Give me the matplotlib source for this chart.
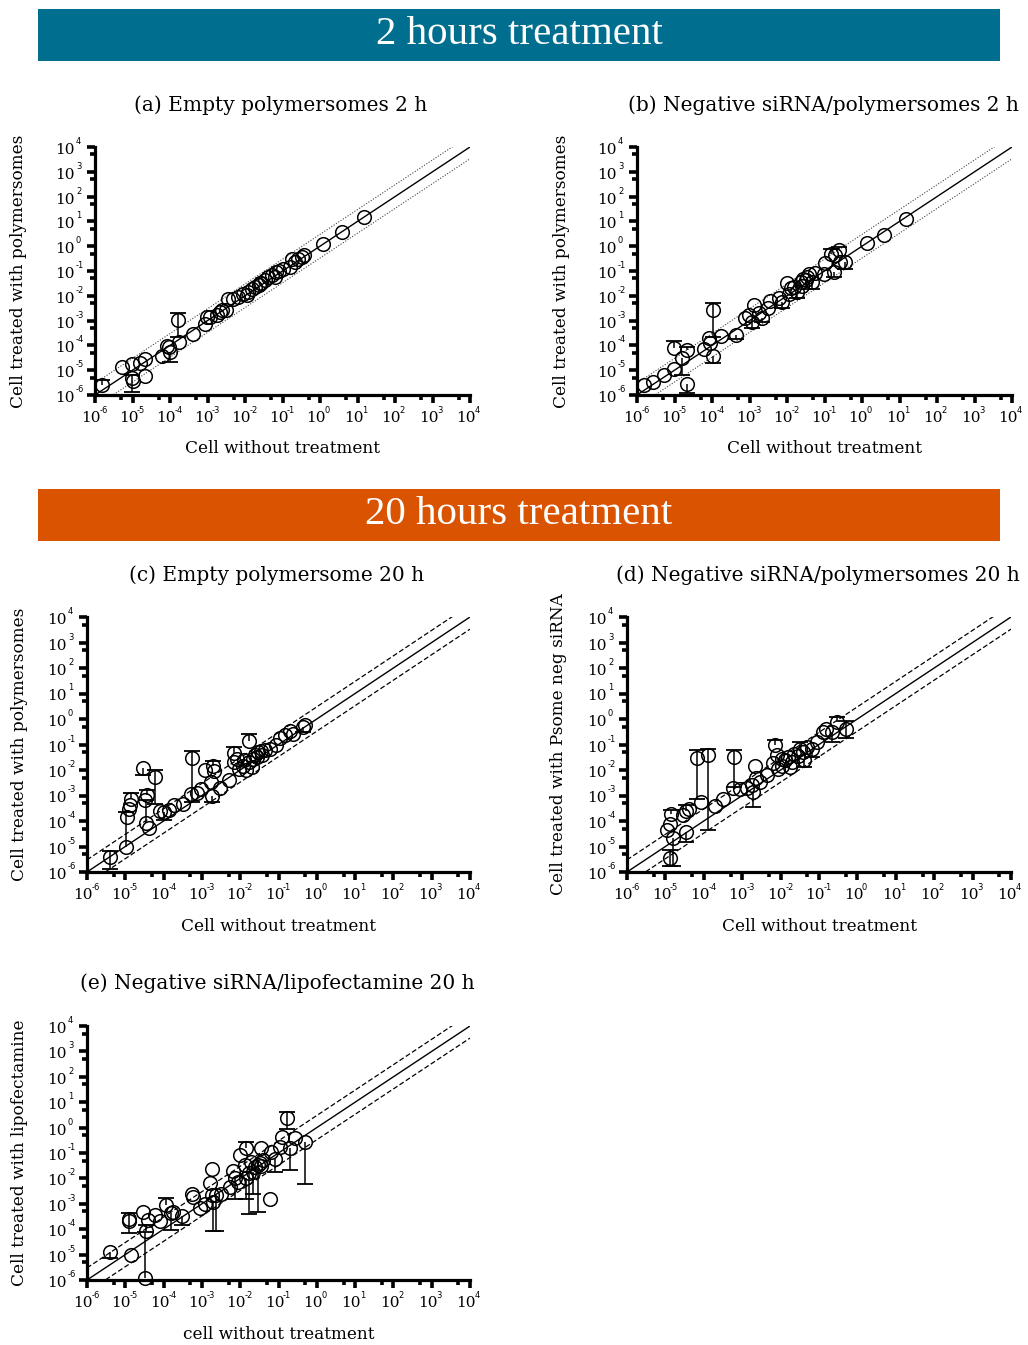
import numpy as np
import matplotlib
matplotlib.use('Agg')
import matplotlib.pyplot as plt
from matplotlib.ticker import FixedLocator, NullFormatter
from matplotlib.patches import Rectangle

plt.rcParams['font.family'] = ['DejaVu Serif']

# ---- (a) empty polymersomes, 2 h ----
xa = [1.5e-6, 5.1e-6, 9.5e-6, 9.5e-6, 1e-5, 1.6e-5, 2.1e-5, 2.1e-5, 6.3e-5, 8.1e-5,
      1e-4, 9.3e-5, 1.6e-4, 1.75e-4, 4.2e-4, 8.5e-4, 9.5e-4, 1.2e-3, 1.75e-3, 2.1e-3,
      3.2e-3, 3.6e-3, 4.9e-3, 6.6e-3, 9.1e-3, 1.23e-2, 1.5e-2, 1.86e-2, 2.3e-2, 2.75e-2,
      3.4e-2, 4.2e-2, 5.1e-2, 6.3e-2, 6.9e-2, 0.105, 0.158, 0.174, 0.214, 0.263,
      0.324, 0.372, 1.23, 3.8, 15, 1.12e-2, 2.5e-2, 2.5e-3, 7.9e-2]
ya = [2.5e-6, 1.4e-5, 1.8e-5, 4.7e-6, 3.8e-6, 1.9e-5, 2.75e-5, 5.9e-6, 3.7e-5, 9.3e-5,
      5.5e-5, 8.9e-5, 1.1e-3, 1.4e-4, 3.0e-4, 7.2e-4, 1.35e-3, 1.4e-3, 1.65e-3, 2.3e-3,
      2.6e-3, 7.1e-3, 7.1e-3, 9.1e-3, 1.17e-2, 1.45e-2, 1.8e-2, 2.3e-2, 2.7e-2, 3.3e-2,
      4.3e-2, 5.5e-2, 6.8e-2, 5.9e-2, 9.3e-2, 0.126, 0.148, 0.316, 0.234, 0.316,
      0.372, 0.437, 1.2, 3.8, 15, 1.05e-2, 3.2e-2, 2.8e-3, 0.1]
ex_a = [1.5e-6, 9.5e-6, 1e-4, 1.6e-4]
ey_a = [2.5e-6, 4.7e-6, 5.5e-5, 1.1e-3]
elo_a = [2.5e-6, 1.35e-6, 2.2e-5, 2.2e-4]
ehi_a = [4e-6, 6.3e-6, 5.5e-5, 1.95e-3]

# ---- (b) negative siRNA / polymersomes, 2 h ----
xb = [1.5e-6, 2.75e-6, 5.1e-6, 9.5e-6, 9.5e-6, 1.6e-5, 2.1e-5, 2.1e-5, 6.3e-5, 8.1e-5,
      9.1e-5, 1.05e-4, 1.05e-4, 1.7e-4, 4.4e-4, 7.8e-4, 9.5e-4, 1.17e-3, 1.3e-3, 1.75e-3,
      2.1e-3, 3.2e-3, 3.6e-3, 6.0e-3, 7.4e-3, 1e-2, 1.1e-2, 1.5e-2, 1.86e-2, 2.3e-2,
      2.75e-2, 3.4e-2, 3.8e-2, 4.7e-2, 5.75e-2, 9.5e-2, 0.105, 0.145, 0.174, 0.195,
      0.25, 0.263, 0.363, 1.32, 3.8, 14.8, 1.26e-2, 2.5e-2, 3.2e-2]
yb = [2.5e-6, 3.2e-6, 6.5e-6, 1.07e-5, 8.1e-5, 3.0e-5, 6.5e-5, 2.75e-6, 6.9e-5, 1.9e-4,
      1.2e-4, 3.7e-5, 2.6e-3, 2.4e-4, 2.6e-4, 1.23e-3, 1.65e-3, 8.9e-4, 4.2e-3, 1.95e-3,
      1.23e-3, 3.1e-3, 6.3e-3, 7.8e-3, 5.8e-3, 3.2e-2, 1.23e-2, 2.3e-2, 1.45e-2, 3.6e-2,
      4.6e-2, 5.9e-2, 7.9e-2, 3.6e-2, 8.5e-2, 7.9e-2, 0.214, 0.5, 9.3e-2, 0.437,
      0.69, 0.234, 0.234, 1.35, 2.75, 12.9, 2e-2, 2.5e-2, 4.5e-2]
ex_b = [9.5e-6, 1.6e-5, 2.1e-5, 2.1e-5, 1.05e-4, 1.05e-4, 4.4e-4, 1.17e-3, 2.1e-3,
        7.4e-3, 1.86e-2, 4.7e-2, 0.145, 0.174, 0.25, 0.363]
ey_b = [8.1e-5, 3.0e-5, 6.5e-5, 2.75e-6, 3.7e-5, 2.6e-3, 2.6e-4, 8.9e-4, 1.23e-3,
        5.8e-3, 1.45e-2, 3.6e-2, 0.5, 9.3e-2, 0.69, 0.234]
elo_b = [8.1e-5, 6.5e-6, 6.5e-5, 1.26e-6, 2e-5, 2.2e-4, 1.8e-4, 5e-4, 8.9e-4,
         3.2e-3, 8e-3, 1.8e-2, 0.5, 5.6e-2, 0.69, 0.117]
ehi_b = [1.5e-4, 3.0e-5, 8.9e-5, 2.75e-6, 3.7e-5, 5.2e-3, 2.6e-4, 8.9e-4, 1.23e-3,
         5.8e-3, 1.45e-2, 3.6e-2, 0.79, 9.3e-2, 0.95, 0.234]

# ---- (c) empty polymersome, 20 h ----
xc = [4.1e-6, 1.07e-5, 1.1e-5, 1.23e-5, 1.3e-5, 1.4e-5, 2.9e-5, 3.3e-5, 3.7e-5, 3.5e-5,
      4.1e-5, 6.0e-5, 7.9e-5, 1e-4, 1.35e-4, 1.9e-4, 3.2e-4, 5.5e-4, 5.2e-4, 7.4e-4,
      9.5e-4, 1.23e-3, 1.7e-3, 1.8e-3, 2e-3, 2.1e-3, 3.0e-3, 5.2e-3, 6.8e-3, 6.8e-3,
      8.1e-3, 9.5e-3, 1.17e-2, 1.45e-2, 1.66e-2, 1.74e-2, 2.1e-2, 2.45e-2, 3.0e-2, 3.7e-2,
      4.5e-2, 5.9e-2, 8.7e-2, 0.11, 0.148, 0.2, 0.245, 0.5, 0.447,
      1.26e-2, 2e-2, 2.8e-2, 3.5e-2]
yc = [3.9e-6, 9.5e-6, 1.45e-4, 3.0e-4, 4.4e-4, 7.6e-4, 1.23e-2, 6.5e-4, 1.07e-3, 8.1e-5,
      5.4e-5, 5.4e-3, 2.45e-4, 2.2e-4, 2.6e-4, 4.1e-4, 4.8e-4, 2.95e-2, 1.1e-3, 1.3e-3,
      1.85e-3, 9.8e-3, 3.4e-3, 1.0e-3, 1.5e-2, 8.9e-3, 1.95e-3, 3.9e-3, 4.8e-2, 2.0e-2,
      2.6e-2, 1.1e-2, 1.5e-2, 9.8e-3, 0.138, 2.0e-2, 2.75e-2, 3.8e-2, 5.1e-2, 4.0e-2,
      5.9e-2, 6.9e-2, 0.1, 0.178, 0.229, 0.33, 0.263, 0.6, 0.49,
      2.5e-2, 1.26e-2, 3.2e-2, 5.6e-2]
ex_c = [4.1e-6, 1.07e-5, 1.4e-5, 2.9e-5, 3.7e-5, 3.5e-5, 6.0e-5, 1e-4, 5.5e-4,
        1.8e-3, 2e-3, 6.8e-3, 1.66e-2, 0.447]
ey_c = [3.9e-6, 9.5e-6, 7.6e-4, 1.23e-2, 1.07e-3, 8.1e-5, 5.4e-3, 2.2e-4, 2.95e-2,
        1.0e-3, 1.5e-2, 4.8e-2, 0.138, 0.49]
elo_c = [1.3e-6, 9.5e-6, 7.6e-4, 6.3e-3, 1.07e-3, 8.1e-5, 4.8e-4, 1.05e-4, 5.6e-4,
         5.6e-4, 1.5e-2, 4.8e-2, 0.138, 0.316]
ehi_c = [6.6e-6, 2.2e-4, 1.2e-3, 1.23e-2, 1.7e-3, 6.5e-4, 9.8e-3, 2.2e-4, 5.4e-2,
         1.0e-3, 2.3e-2, 7.9e-2, 0.25, 0.49]

# ---- (d) negative siRNA / polymersomes, 20 h ----
xd = [1.3e-5, 1.1e-5, 1.3e-5, 1.4e-5, 1.6e-5, 2.9e-5, 3.5e-5, 3.5e-5, 4.2e-5, 6.5e-5,
      8.7e-5, 1.3e-4, 1.95e-4, 3.2e-4, 6.0e-4, 5.6e-4, 8.7e-4, 1.3e-3, 1.8e-3, 1.95e-3,
      2.1e-3, 2.3e-3, 2.9e-3, 4.3e-3, 6.5e-3, 7.1e-3, 7.9e-3, 8.7e-3, 1.07e-2, 1.3e-2,
      1.6e-2, 1.95e-2, 2.3e-2, 3.2e-2, 3.9e-2, 4.8e-2, 6.5e-2, 8.7e-2, 0.126, 0.15,
      0.214, 0.29, 0.5, 1.1e-2, 1.8e-2, 2.8e-2, 4e-2]
yd = [3.5e-6, 4.3e-5, 7.9e-5, 1.8e-4, 2.1e-5, 1.66e-4, 2.4e-4, 3.7e-5, 2.9e-4, 3.0e-2,
      5.6e-4, 3.8e-2, 3.9e-4, 7.6e-4, 3.2e-2, 1.95e-3, 1.85e-3, 1.95e-3, 2.5e-3, 1.4e-3,
      1.5e-2, 4.9e-3, 3.4e-3, 6.2e-3, 1.8e-2, 9.8e-2, 3.8e-2, 1.1e-2, 1.5e-2, 2.4e-2,
      3.2e-2, 2.0e-2, 4.4e-2, 6.9e-2, 5.1e-2, 7.9e-2, 6.9e-2, 0.126, 0.31, 0.39,
      0.31, 0.76, 0.417, 2.8e-2, 1.26e-2, 3.5e-2, 2.5e-2]
ex_d = [1.3e-5, 1.4e-5, 1.6e-5, 3.5e-5, 3.5e-5, 6.5e-5, 1.3e-4, 6.0e-4, 1.95e-3,
        7.1e-3, 3.2e-2, 6.5e-2, 4e-2, 0.214, 0.29, 0.5]
ey_d = [3.5e-6, 1.8e-4, 2.1e-5, 2.4e-4, 3.7e-5, 3.0e-2, 3.8e-2, 3.2e-2, 1.4e-3,
        9.8e-2, 6.9e-2, 6.9e-2, 2.5e-2, 0.31, 0.76, 0.417]
elo_d = [1.75e-6, 1.8e-4, 1.75e-6, 2.4e-4, 1.5e-5, 7.6e-4, 4.3e-5, 2.1e-3, 3.5e-4,
         9.8e-2, 6.9e-2, 3.2e-2, 1.26e-2, 0.126, 0.76, 0.186]
ehi_d = [7e-6, 2.8e-4, 2.1e-5, 4.1e-4, 3.7e-5, 6.3e-2, 6.9e-2, 6.3e-2, 1.4e-3,
         0.15, 0.126, 6.9e-2, 2.5e-2, 0.31, 1.2, 0.87]

# ---- (e) negative siRNA / lipofectamine, 20 h ----
xe = [3.9e-6, 1.45e-5, 1.26e-5, 1.26e-5, 2.9e-5, 3.2e-5, 3.5e-5, 3.8e-5, 5.9e-5, 7.9e-5,
      1.15e-4, 1.6e-4, 1.8e-4, 2.95e-4, 5.4e-4, 5.9e-4, 8.7e-4, 1.2e-3, 1.8e-3, 1.66e-3,
      1.8e-3, 1.95e-3, 2.4e-3, 3.2e-3, 5.4e-3, 6.3e-3, 7.2e-3, 8.9e-3, 9.8e-3, 1.3e-2,
      1.4e-2, 1.45e-2, 1.7e-2, 1.95e-2, 2.4e-2, 2.9e-2, 3.5e-2, 4e-2, 5.9e-2, 6.2e-2,
      7.9e-2, 0.107, 0.126, 0.162, 0.2, 0.27, 0.49, 3.2e-2, 3.5e-2, 2.2e-2]
ye = [1.3e-5, 1e-5, 2.5e-4, 2.2e-4, 4.9e-4, 1.23e-6, 8.5e-5, 2.3e-4, 3.6e-4, 2.1e-4,
      8.9e-4, 4.2e-4, 4.9e-4, 3.4e-4, 2.35e-3, 1.9e-3, 6.9e-4, 9.5e-4, 2.3e-2, 6.3e-3,
      2.2e-3, 1.2e-3, 2.2e-3, 2.35e-3, 4.7e-3, 1.95e-2, 1e-2, 7.4e-3, 8.1e-2, 3.3e-2,
      0.158, 1e-2, 1.7e-2, 4.5e-2, 2.9e-2, 3.3e-2, 0.158, 5.2e-2, 1.6e-3, 0.112,
      6.0e-2, 0.174, 0.437, 2.4, 0.151, 0.4, 0.275, 4e-2, 3.2e-2, 1.8e-2]
ex_e = [3.9e-6, 1.26e-5, 3.2e-5, 3.5e-5, 1.15e-4, 1.6e-4, 2.95e-4, 1.95e-3, 2.4e-3,
        7.2e-3, 1.4e-2, 1.45e-2, 1.7e-2, 2.9e-2, 2.2e-2, 7.9e-2, 0.162, 0.2, 0.49]
ey_e = [1.3e-5, 2.5e-4, 1.23e-6, 8.5e-5, 8.9e-4, 4.2e-4, 3.4e-4, 1.2e-3, 2.2e-3,
        1e-2, 0.158, 1e-2, 1.7e-2, 3.3e-2, 1.8e-2, 6.0e-2, 2.4, 0.151, 0.275]
elo_e = [7.6e-6, 6.8e-5, 1.23e-6, 8.5e-5, 8.9e-4, 9.1e-5, 1.45e-4, 8.5e-5, 8.5e-5,
         1.6e-3, 0.158, 1.6e-3, 3.8e-4, 4.9e-4, 2.5e-3, 1.8e-2, 0.91, 2.1e-2, 5.8e-3]
ehi_e = [1.3e-5, 4.2e-4, 7.9e-5, 1.4e-4, 1.66e-3, 4.2e-4, 3.4e-4, 1.2e-3, 2.2e-3,
         1e-2, 0.27, 1e-2, 1.7e-2, 3.3e-2, 1.8e-2, 6.0e-2, 4.2, 0.151, 0.275]

decades = np.arange(-6, 5)
fold = 3.0

W, H = 1028, 1345
fig = plt.figure(figsize=(W / 100, H / 100), dpi=100)
PT = 0.72  # points per pixel at 100 dpi


def box(l, t, r, b):
    return [l / W, 1 - b / H, (r - l) / W, (b - t) / H]


def banner(top, bottom, color, text):
    fig.add_artist(Rectangle((38 / W, 1 - bottom / H), 962 / W, (bottom - top) / H,
                             transform=fig.transFigure, color=color, lw=0))
    fig.text(519 / W, 1 - (top + bottom) / 2 / H, text, color='white', fontsize=29.5,
             family='Liberation Serif', ha='center', va='center')


def power_labels(ax):
    # "10" in serif with a tiny sans exponent
    for d in decades:
        v = 10.0 ** d
        ax.annotate('10', xy=(v, 0), xycoords=('data', 'axes fraction'),
                    xytext=(-4 * PT, -16 * PT), textcoords='offset points',
                    ha='center', va='top', fontsize=11, annotation_clip=False)
        ax.annotate(str(d), xy=(v, 0), xycoords=('data', 'axes fraction'),
                    xytext=(4.5 * PT, -11 * PT), textcoords='offset points',
                    ha='left', va='top', fontsize=6, family='DejaVu Sans',
                    annotation_clip=False)
        ax.annotate('10', xy=(0, v), xycoords=('axes fraction', 'data'),
                    xytext=(-20 * PT, -3 * PT), textcoords='offset points',
                    ha='right', va='center', fontsize=11, annotation_clip=False)
        ax.annotate(str(d), xy=(0, v), xycoords=('axes fraction', 'data'),
                    xytext=(-19 * PT, 5.5 * PT), textcoords='offset points',
                    ha='left', va='center', fontsize=6, family='DejaVu Sans',
                    annotation_clip=False)


def panel(rect, x, y, ex, ey, elo, ehi, title, title_xy, ylabel, xlabel, style, ylab_x):
    ax = fig.add_axes(rect)
    ax.set_xscale('log')
    ax.set_yscale('log')
    ax.set_xlim(10.0 ** decades[0], 10.0 ** decades[-1])
    ax.set_ylim(10.0 ** decades[0], 10.0 ** decades[-1])

    # identity line and the 3-fold band
    lim = np.array(ax.get_xlim())
    ax.plot(lim, lim, color='k', lw=1.0, zorder=2)
    if style == 'dotted':
        kw = dict(color='#444444', lw=0.8, ls=(0, (1, 1.5)))
    else:
        kw = dict(color='k', lw=0.9, ls=(0, (4, 2)))
    ax.plot(lim, lim * fold, zorder=2, **kw)
    ax.plot(lim, lim / fold, zorder=2, **kw)

    # error bars with caps only on the ends that stick out
    ax.vlines(ex, elo, ehi, color='k', lw=1.1, zorder=3)
    caps_x, caps_y = [], []
    for xi, yi, lo, hi in zip(ex, ey, elo, ehi):
        if lo < yi:
            caps_x.append(xi); caps_y.append(lo)
        if hi > yi:
            caps_x.append(xi); caps_y.append(hi)
    ax.plot(caps_x, caps_y, ls='none', marker='_', ms=11, mew=1.3, color='k', zorder=3)

    ax.plot(x, y, ls='none', marker='o', mfc='none', mec='k', ms=9.8, mew=1.1,
            zorder=4, clip_on=False)

    for side in ['top', 'right']:
        ax.spines[side].set_visible(False)
    for side in ['left', 'bottom']:
        ax.spines[side].set_linewidth(2.3)

    ticks = 10.0 ** decades
    minor = 5 * 10.0 ** decades[:-1]
    for axis in [ax.xaxis, ax.yaxis]:
        axis.set_major_locator(FixedLocator(ticks))
        axis.set_minor_locator(FixedLocator(minor))
        axis.set_minor_formatter(NullFormatter())
    ax.set_xticklabels([])
    ax.set_yticklabels([])
    ax.tick_params(which='major', length=6, width=2.6)
    ax.tick_params(which='minor', length=3.5, width=2.6)
    power_labels(ax)

    ax.set_xlabel(xlabel, fontsize=12.2)
    ax.set_ylabel(ylabel, fontsize=12.2)
    ax.xaxis.set_label_coords(0.5, -0.18)
    ax.yaxis.set_label_coords(ylab_x, 0.5)
    fig.text(title_xy[0] / W, 1 - title_xy[1] / H, title, fontsize=14.5,
             ha='center', va='center')
    return ax


banner(9, 61, '#006E8F', '2 hours treatment')
banner(489, 541, '#D95300', '20 hours treatment')

panel(box(95, 147, 470, 395), xa, ya, ex_a, ey_a, elo_a, ehi_a,
      '(a) Empty polymersomes 2 h', (281, 105),
      'Cell treated with polymersomes', 'Cell without treatment', 'dotted', -0.18)
panel(box(637, 147, 1012, 395), xb, yb, ex_b, ey_b, elo_b, ehi_b,
      '(b) Negative siRNA/polymersomes 2 h', (823, 105),
      'Cell treated with polymersomes', 'Cell without treatment', 'dotted', -0.18)
panel(box(87, 617, 470, 872), xc, yc, ex_c, ey_c, elo_c, ehi_c,
      '(c) Empty polymersome 20 h', (277, 575),
      'Cell treated with polymersomes', 'Cell without treatment', 'dashed', -0.155)
panel(box(627, 617, 1011, 872), xd, yd, ex_d, ey_d, elo_d, ehi_d,
      '(d) Negative siRNA/polymersomes 20 h', (818, 575),
      'Cell treated with Psome neg siRNA', 'Cell without treatment', 'dashed', -0.155)
panel(box(87, 1026, 470, 1280), xe, ye, ex_e, ey_e, elo_e, ehi_e,
      '(e) Negative siRNA/lipofectamine 20 h', (277, 983),
      'Cell treated with lipofectamine', 'cell without treatment', 'dashed', -0.155)

fig.savefig('out.png', dpi=100)
